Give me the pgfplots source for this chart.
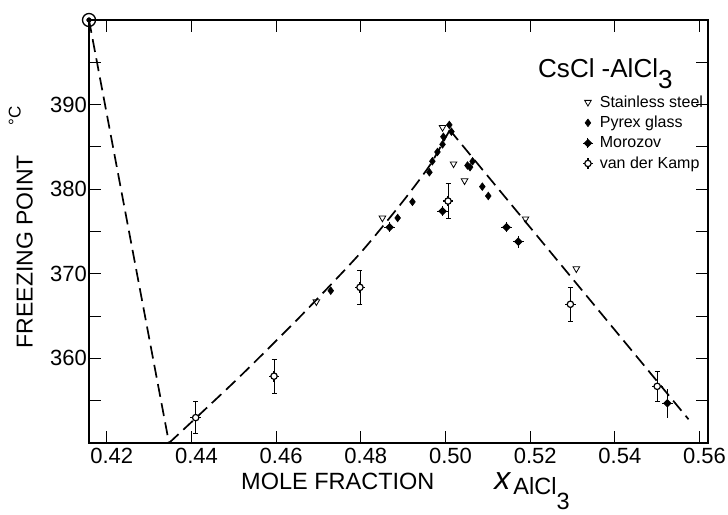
\documentclass[border=0pt]{standalone}
\usepackage{pgfplots}
\pgfplotsset{compat=1.18}
\usepackage{fontspec}
\setmainfont{Liberation Sans}

\pgfdeclareplotmark{moro}{%
  \pgfpathmoveto{\pgfqpoint{0pt}{\pgfplotmarksize}}%
  \pgfpathlineto{\pgfqpoint{\pgfplotmarksize}{0pt}}%
  \pgfpathlineto{\pgfqpoint{0pt}{-\pgfplotmarksize}}%
  \pgfpathlineto{\pgfqpoint{-\pgfplotmarksize}{0pt}}%
  \pgfpathclose
  \pgfusepathqfillstroke
  \pgfpathmoveto{\pgfqpoint{0pt}{1.45\pgfplotmarksize}}%
  \pgfpathlineto{\pgfqpoint{0pt}{-1.45\pgfplotmarksize}}%
  \pgfpathmoveto{\pgfqpoint{1.45\pgfplotmarksize}{0pt}}%
  \pgfpathlineto{\pgfqpoint{-1.45\pgfplotmarksize}{0pt}}%
  \pgfusepathqstroke
}
\pgfdeclareplotmark{vdk}{%
  \pgfpathcircle{\pgfpointorigin}{0.8\pgfplotmarksize}%
  \pgfusepathqfillstroke
  \pgfpathmoveto{\pgfqpoint{0pt}{0.8\pgfplotmarksize}}%
  \pgfpathlineto{\pgfqpoint{0pt}{1.35\pgfplotmarksize}}%
  \pgfpathmoveto{\pgfqpoint{0pt}{-0.8\pgfplotmarksize}}%
  \pgfpathlineto{\pgfqpoint{0pt}{-1.35\pgfplotmarksize}}%
  \pgfpathmoveto{\pgfqpoint{0.8\pgfplotmarksize}{0pt}}%
  \pgfpathlineto{\pgfqpoint{1.35\pgfplotmarksize}{0pt}}%
  \pgfpathmoveto{\pgfqpoint{-0.8\pgfplotmarksize}{0pt}}%
  \pgfpathlineto{\pgfqpoint{-1.35\pgfplotmarksize}{0pt}}%
  \pgfusepathqstroke
}

\begin{document}
\begin{tikzpicture}
\useasboundingbox (-89pt,-71pt) rectangle (639pt,443pt);
\begin{axis}[
  scale only axis, width=619pt, height=423pt,
  xmin=0.4158, xmax=0.5620, ymin=350, ymax=400,
  axis line style={line width=1.3pt},
  xtick={0.42,0.44,0.46,0.48,0.50,0.52,0.54,0.56},
  xticklabels={0.42,0.44,0.46,0.48,0.50,0.52,0.54,0.56},
  ytick={360,370,380,390},
  yticklabels={360,370,380,390},
  minor ytick={355,365,375,385,395},
  tick pos=both, ticklabel pos=left,
  tick align=inside,
  major tick length=12pt, minor tick length=12pt,
  every tick/.style={line width=1pt, black},
  /pgf/number format/assume math mode=true,
  xticklabel style={font=\fontsize{22}{24}\selectfont, inner sep=0pt, yshift=-5pt, xshift=5pt},
  yticklabel style={font=\fontsize{22}{24}\selectfont, inner sep=0pt, xshift=-2pt},
  xlabel={MOLE FRACTION\hspace{60pt}{\itshape\fontsize{32}{32}\selectfont x}\hspace{3pt}\raisebox{-5pt}{AlCl\raisebox{-15pt}{3}}},
  xlabel style={at={(axis description cs:0.2456,-0.1111)}, anchor=base west, inner sep=0pt, font=\fontsize{23.5}{26}\selectfont},
  ylabel={FREEZING POINT\hspace{30pt}\raisebox{12pt}{\fontsize{17}{18}\selectfont °C}},
  ylabel style={at={(axis description cs:-0.0905,0.51)}, anchor=south, inner sep=0pt, font=\fontsize{23}{26}\selectfont},
  clip=false,
  axis on top=false,
  legend style={at={(axis description cs:0.797,0.825)}, anchor=north west, draw=none, fill=none,
     font=\fontsize{16}{18}\selectfont, inner sep=0pt, row sep=4.5pt,
     nodes={inner sep=1.5pt},
     /tikz/every odd column/.append style={column sep=5pt}},
  legend cell align=left,
  legend image code/.code={\draw[#1] plot coordinates {(3pt,0pt)};},
]
% Stainless steel
\addplot[only marks, mark=triangle, mark size=3.8pt, mark options={rotate=180, line width=0.8pt, fill=white}] coordinates {
(0.4695,366.7) (0.4851,376.6) (0.4993,387.3) (0.5019,383.0) (0.5045,381.0) (0.5189,376.5) (0.5309,370.6)
};
\addlegendentry{Stainless steel}
% Pyrex glass
\addplot[only marks, mark=diamond*, mark size=3.8pt, mark options={fill=black, line width=0.6pt}] coordinates {
(0.4729,368.0) (0.4887,376.6) (0.4922,378.5) (0.4962,382.0) (0.4969,383.3) (0.4981,384.4) (0.4993,385.3) (0.4995,386.2) (0.5009,387.6) (0.5014,386.8) (0.5052,382.8) (0.5058,382.6) (0.5064,383.3) (0.5087,380.3) (0.5101,379.2)
};
\addlegendentry{Pyrex glass}
% Morozov
\addplot[only marks, mark=moro, mark size=3.6pt, mark options={fill=black, line width=1pt},
  error bars/.cd, y dir=both, y explicit, error bar style={line width=0.8pt}, error mark=none] coordinates {
(0.4868,375.5) +- (0,0.6)
(0.4993,377.4) +- (0,0.6)
(0.5144,375.5) +- (0,0.6)
(0.5172,373.8) +- (0,0.7)
(0.5524,354.7) +- (0,1.7)
};
\addlegendentry{Morozov}
% van der Kamp
\addplot[only marks, mark=vdk, mark size=4pt, mark options={fill=white, line width=1.2pt},
  error bars/.cd, y dir=both, y explicit, error bar style={line width=0.8pt},
  error mark options={rotate=90, mark size=2.5pt, line width=0.8pt}] coordinates {
(0.4410,353.0) +- (0,1.9)
(0.4595,357.9) +- (0,2.0)
(0.4798,368.4) +- (0,2.0)
(0.5006,378.6) +- (0,2.1)
(0.5295,366.4) +- (0,2.0)
(0.5500,356.7) +- (0,1.8)
};
\addlegendentry{van der Kamp}
% dashed liquidus curves
\addplot[forget plot, black, line width=1.7pt, dash pattern=on 13pt off 6.5pt] coordinates {
(0.4158,400) (0.4347,350)
};
\addplot[forget plot, black, line width=1.7pt, dash pattern=on 13pt off 6.5pt, smooth, tension=0.4] coordinates {
(0.4347,350) (0.4507,357.5) (0.4656,364.9) (0.4798,372.4) (0.4900,378.6) (0.4964,382.9) (0.5010,387.0)
};
\addplot[forget plot, black, line width=1.7pt, dash pattern=on 13pt off 6.5pt] coordinates {
(0.5010,387.0) (0.5574,352.8)
};
% CsCl melting point at the corner
\addplot[forget plot, only marks, mark=o, mark size=6.5pt, mark options={line width=1.3pt, fill=white}] coordinates {(0.4158,400)};
\addplot[forget plot, only marks, mark=*, mark size=2.4pt, mark options={fill=black, draw=black}] coordinates {(0.4158,400)};
\node[anchor=base west, inner sep=0pt, font=\fontsize{26}{28}\selectfont] at (axis description cs:0.7254,0.8652) {CsCl -AlCl\raisebox{-11pt}{3}};
\end{axis}
\end{tikzpicture}
\end{document}
